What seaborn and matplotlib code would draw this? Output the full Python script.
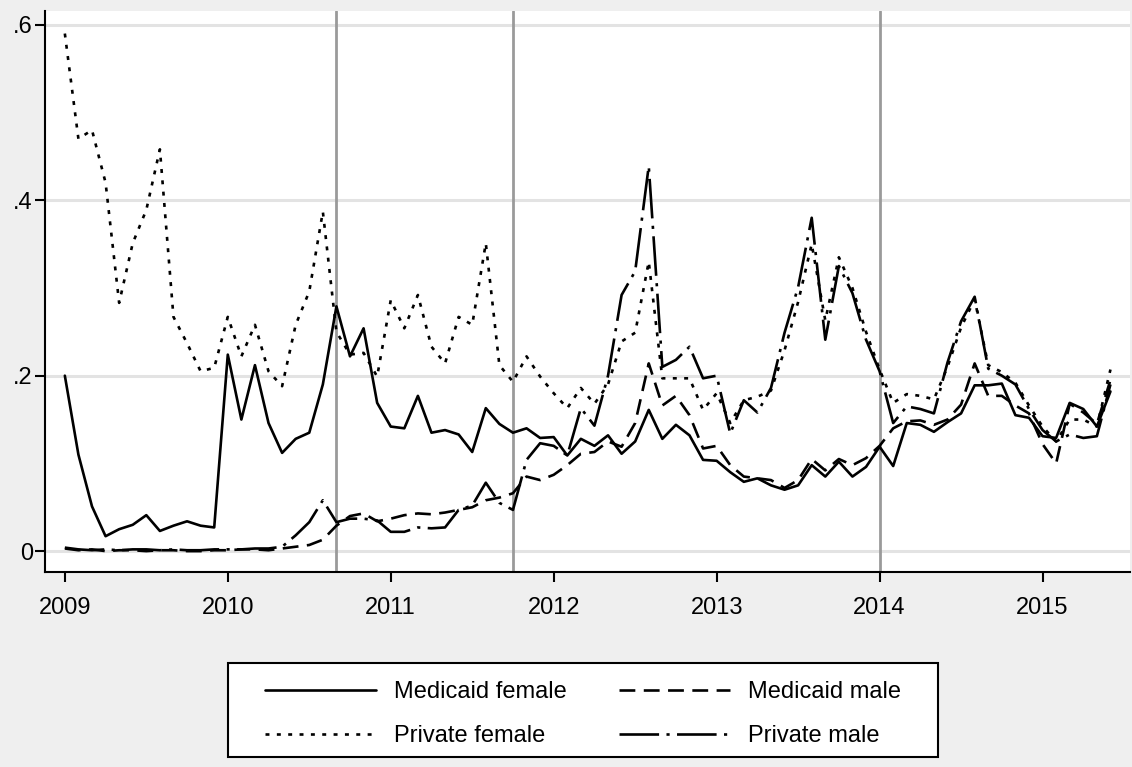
import numpy as np
import pandas as pd
import matplotlib
matplotlib.use("Agg")
import matplotlib.pyplot as plt
from matplotlib.patches import Rectangle
import seaborn as sns

# monthly series, Jan 2009 .. Jun 2015
medicaid_female = [
    0.200, 0.110, 0.051, 0.017, 0.025, 0.030, 0.041, 0.023, 0.029, 0.034, 0.029, 0.027,
    0.224, 0.150, 0.212, 0.146, 0.112, 0.128, 0.135, 0.190, 0.279, 0.222, 0.254, 0.169,
    0.142, 0.140, 0.177, 0.135, 0.138, 0.133, 0.113, 0.163, 0.145, 0.135, 0.140, 0.129,
    0.130, 0.109, 0.128, 0.120, 0.132, 0.111, 0.125, 0.161, 0.128, 0.144, 0.132, 0.104,
    0.103, 0.090, 0.079, 0.083, 0.075, 0.070, 0.075, 0.098, 0.085, 0.102, 0.085, 0.096,
    0.119, 0.097, 0.146, 0.144, 0.136, 0.147, 0.157, 0.189, 0.189, 0.191, 0.155, 0.152,
    0.131, 0.129, 0.169, 0.162, 0.142, 0.182]
medicaid_male = [
    0.003, 0.001, 0.002, 0.000, 0.001, 0.001, 0.000, 0.001, 0.001, 0.000, 0.000, 0.001,
    0.001, 0.002, 0.002, 0.001, 0.003, 0.005, 0.007, 0.013, 0.029, 0.040, 0.043, 0.034,
    0.037, 0.041, 0.043, 0.042, 0.044, 0.047, 0.050, 0.058, 0.061, 0.066, 0.085, 0.081,
    0.087, 0.098, 0.111, 0.113, 0.125, 0.119, 0.146, 0.214, 0.166, 0.177, 0.155, 0.117,
    0.120, 0.098, 0.085, 0.083, 0.081, 0.072, 0.081, 0.105, 0.092, 0.105, 0.098, 0.106,
    0.120, 0.140, 0.148, 0.149, 0.144, 0.150, 0.167, 0.214, 0.177, 0.177, 0.166, 0.157,
    0.122, 0.100, 0.168, 0.158, 0.145, 0.195]
private_female = [
    0.590, 0.470, 0.480, 0.420, 0.283, 0.351, 0.389, 0.458, 0.267, 0.237, 0.205, 0.209,
    0.267, 0.222, 0.258, 0.205, 0.188, 0.258, 0.296, 0.387, 0.250, 0.224, 0.226, 0.199,
    0.286, 0.254, 0.292, 0.233, 0.214, 0.267, 0.258, 0.351, 0.212, 0.193, 0.222, 0.199,
    0.180, 0.163, 0.186, 0.168, 0.190, 0.239, 0.249, 0.330, 0.197, 0.197, 0.197, 0.161,
    0.180, 0.146, 0.172, 0.176, 0.183, 0.229, 0.284, 0.350, 0.263, 0.335, 0.300, 0.250,
    0.207, 0.169, 0.179, 0.177, 0.173, 0.210, 0.255, 0.287, 0.212, 0.204, 0.192, 0.166,
    0.142, 0.125, 0.150, 0.150, 0.142, 0.207]
private_male = [
    0.004, 0.002, 0.001, 0.002, 0.001, 0.002, 0.002, 0.001, 0.002, 0.001, 0.001, 0.002,
    0.002, 0.002, 0.003, 0.003, 0.005, 0.018, 0.033, 0.058, 0.033, 0.037, 0.037, 0.035,
    0.022, 0.022, 0.027, 0.026, 0.027, 0.047, 0.052, 0.078, 0.055, 0.047, 0.104, 0.123,
    0.120, 0.109, 0.163, 0.143, 0.200, 0.292, 0.319, 0.439, 0.210, 0.218, 0.233, 0.197,
    0.200, 0.134, 0.172, 0.158, 0.186, 0.249, 0.301, 0.380, 0.241, 0.325, 0.294, 0.241,
    0.205, 0.146, 0.165, 0.162, 0.157, 0.215, 0.262, 0.290, 0.208, 0.200, 0.190, 0.162,
    0.138, 0.125, 0.133, 0.129, 0.131, 0.190]

series_names = ["Medicaid female", "Medicaid male", "Private female", "Private male"]
x_ticks = [2009, 2010, 2011, 2012, 2013, 2014, 2015]
y_ticks = [0, 0.2, 0.4, 0.6]
y_ticklabels = ["0", ".2", ".4", ".6"]
events = [2010 + 8 / 12, 2011 + 9 / 12, 2014.0]

months = np.arange(len(medicaid_female))
t = 2009 + months / 12.0
df = pd.concat([
    pd.DataFrame({"t": t, "value": medicaid_female, "series": series_names[0]}),
    pd.DataFrame({"t": t, "value": medicaid_male, "series": series_names[1]}),
    pd.DataFrame({"t": t, "value": private_female, "series": series_names[2]}),
    pd.DataFrame({"t": t, "value": private_male, "series": series_names[3]}),
])

sns.set_theme(style="white")
plt.rcParams["font.family"] = ["Liberation Sans", "DejaVu Sans"]
plt.rcParams["text.color"] = "black"
plt.rcParams["xtick.color"] = "black"
plt.rcParams["ytick.color"] = "black"

fig = plt.figure(figsize=(11.32, 7.67), dpi=100, facecolor="#efefef")
ax = fig.add_axes([0.040, 0.254, 0.958, 0.732])
ax.set_facecolor("white")

# grid + reference lines first so the series sit on top
for yv in y_ticks:
    ax.axhline(yv, color="#e3e3e3", lw=2.2, zorder=1)
for ev in events:
    ax.axvline(ev, color="#9a9a9a", lw=2.0, zorder=1.5)

dash_map = {
    "Medicaid female": "",
    "Medicaid male": (6, 3.2),
    "Private female": (1.5, 2.8),
    "Private male": (15, 2.8, 1.2, 2.8),
}
sns.lineplot(data=df, x="t", y="value", style="series", style_order=series_names,
             dashes=dash_map, color="black", lw=1.9, legend=False, ax=ax,
             zorder=3)

ax.set_xlim(2008.88, 2015.535)
ax.set_ylim(-0.024, 0.616)
ax.set_xticks(x_ticks)
ax.set_xticklabels([str(x) for x in x_ticks], fontsize=17, color="black")
ax.set_yticks(y_ticks)
ax.set_yticklabels(y_ticklabels, fontsize=17, color="black")
ax.set_xlabel("")
ax.set_ylabel("")
ax.tick_params(axis="both", direction="out", length=7, width=1.5, color="black",
               left=True, bottom=True)
ax.tick_params(axis="x", pad=11)
ax.tick_params(axis="y", pad=2)
for side in ["top", "right"]:
    ax.spines[side].set_visible(False)
for side in ["left", "bottom"]:
    ax.spines[side].set_color("black")
    ax.spines[side].set_linewidth(1.5)

# legend: rows are (Medicaid female, Medicaid male), (Private female, Private male)
lines = [h for h in ax.get_lines() if len(h.get_xdata()) > 2][:4]
order = [0, 2, 1, 3]
leg = fig.legend([lines[i] for i in order], [series_names[i] for i in order],
                 ncol=2, frameon=False, fontsize=17,
                 handlelength=4.7, handletextpad=0.75, columnspacing=2.2,
                 labelspacing=0.95, loc="center",
                 bbox_to_anchor=(583 / 1132, 1 - 714 / 767))
for txt in leg.get_texts():
    txt.set_color("black")
fig.patches.append(Rectangle((228 / 1132, 1 - 757 / 767), 710 / 1132, 94 / 767,
                             transform=fig.transFigure, facecolor="white",
                             edgecolor="black", lw=1.5, zorder=0))

fig.savefig("out.png", dpi=100, facecolor=fig.get_facecolor())
